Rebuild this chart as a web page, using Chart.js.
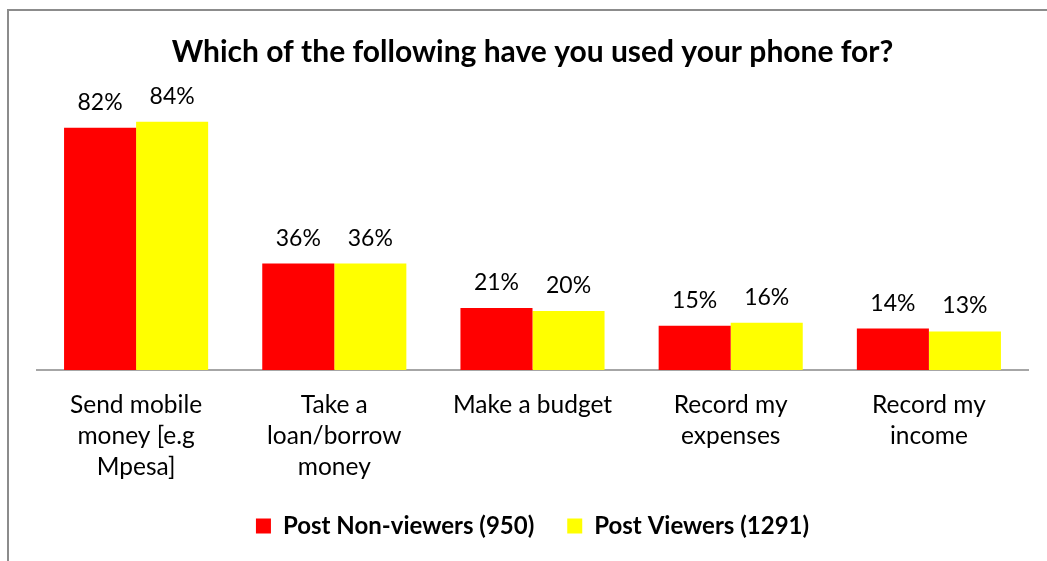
<!DOCTYPE html>
<html><head><meta charset="utf-8">
<script src="https://cdn.jsdelivr.net/npm/chart.js@4.4.1/dist/chart.umd.min.js"></script>
<style>
html,body{margin:0;padding:0;background:#fff;}
#wrap{position:relative;width:1047px;height:561px;overflow:hidden;}
#frame{position:absolute;left:7px;top:9px;width:1100px;height:600px;border:2px solid #8c8c8c;box-sizing:border-box;pointer-events:none;}
canvas{position:absolute;left:0;top:0;}
</style></head>
<body><div id="wrap"><canvas id="c" width="1047" height="561"></canvas><div id="frame"></div></div>
<script>
const categories = [["Send mobile","money [e.g","Mpesa]"],["Take a","loan/borrow","money"],["Make a budget"],["Record my","expenses"],["Record my","income"]];
const nonViewers = [82,36,21,15,14];
const viewers = [84,36,20,16,13];
const seriesNames = ["Post Non-viewers (950)","Post Viewers (1291)"];
const titleText = "Which of the following have you used your phone for?";

const FONT = "Lato, 'Open Sans', sans-serif";

const dataLabels = {
  id: 'dataLabels',
  afterDatasetsDraw(chart) {
    const ctx = chart.ctx;
    ctx.save();
    ctx.font = "23px " + FONT;
    ctx.fillStyle = '#000';
    ctx.textAlign = 'center';
    ctx.textBaseline = 'bottom';
    chart.data.datasets.forEach((ds, i) => {
      chart.getDatasetMeta(i).data.forEach((el, j) => {
        ctx.fillText(ds.data[j] + '%', el.x, el.y - 14);
      });
    });
    ctx.restore();
  }
};

new Chart(document.getElementById('c'), {
  type: 'bar',
  data: {
    labels: categories,
    datasets: [
      {label: seriesNames[0], data: nonViewers, backgroundColor: '#FF0000', borderWidth: 0},
      {label: seriesNames[1], data: viewers, backgroundColor: '#FFFF00', borderWidth: 0}
    ]
  },
  options: {
    responsive: false,
    devicePixelRatio: 1,
    animation: false,
    layout: {padding: {left: 37, right: 19, top: 0, bottom: 13}},
    categoryPercentage: 0.727,
    barPercentage: 1.0,
    scales: {
      x: {
        grid: {display: false, drawTicks: false},
        border: {display: true, color: '#a6a6a6', width: 2},
        ticks: {color: '#000', font: {family: FONT, size: 24.5, lineHeight: 31/24.5}, padding: 20, maxRotation: 0, autoSkip: false},
        afterFit(scale) { scale.height = 111; }
      },
      y: {display: false, min: 0, max: 90}
    },
    plugins: {
      title: {display: true, text: titleText, color: '#000',
        font: {family: FONT, size: 30, weight: 'bold', lineHeight: 1.2},
        padding: {top: 34, bottom: 34}},
      legend: {position: 'bottom',
        labels: {boxWidth: 15, boxHeight: 15, padding: 33, color: '#000',
          font: {family: FONT, size: 24, weight: 'bold'}}},
      tooltip: {enabled: false}
    }
  },
  plugins: [dataLabels]
});
</script>
</body></html>
